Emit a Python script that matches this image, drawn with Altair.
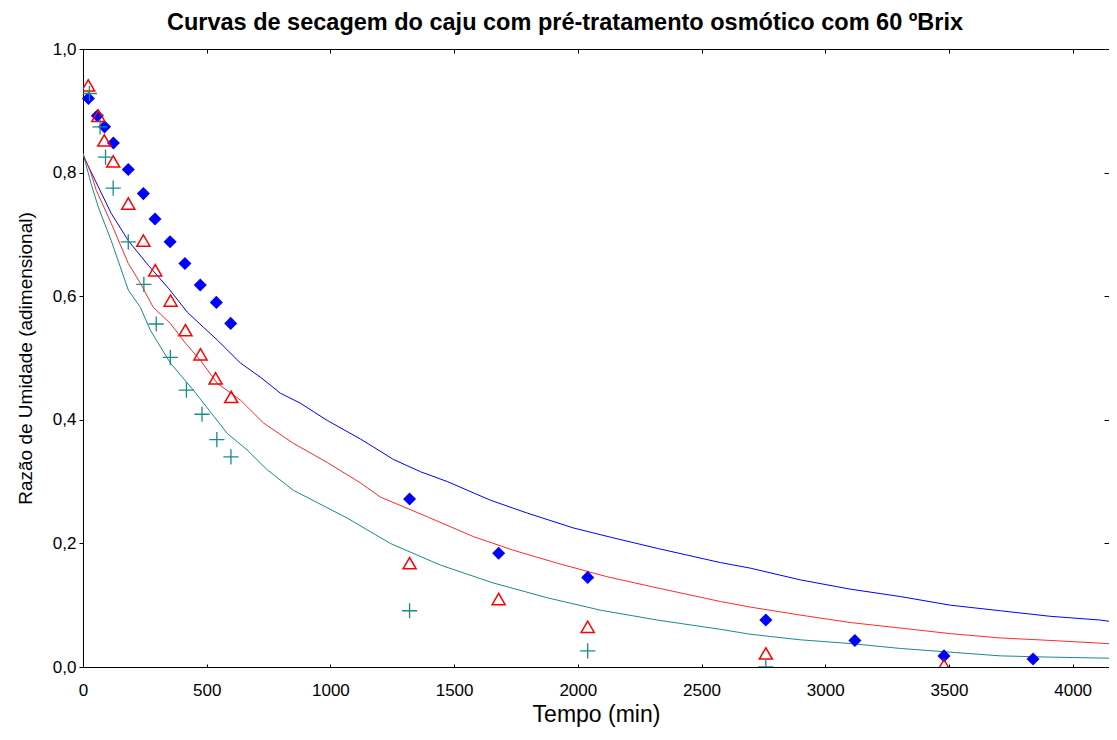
import altair as alt
import pandas as pd

# ---------------- data ----------------
# Experimental points (Tempo em min, Razão de Umidade)
DIAM_T = [22, 58, 87, 123, 183, 244, 291, 352, 412, 474, 539, 597,
          1320, 1680, 2040, 2760, 3120, 3480, 3840, 4200]
DIAM_Y = [0.920, 0.892, 0.874, 0.848, 0.805, 0.766, 0.725, 0.688, 0.653, 0.618, 0.590, 0.556,
          0.272, 0.184, 0.145, 0.076, 0.043, 0.018, 0.013, 0.009]

TRI_T = [21, 62, 86, 122, 183, 244, 292, 354, 414, 475, 536, 599,
         1320, 1680, 2040, 2760, 3480]
TRI_Y = [0.941, 0.892, 0.852, 0.818, 0.750, 0.690, 0.642, 0.593, 0.545, 0.506, 0.467, 0.437,
         0.168, 0.110, 0.065, 0.022, 0.003]

CROSS_T = [26, 69, 91, 122, 183, 246, 296, 353, 418, 481, 541, 598,
           1320, 2040, 2760]
CROSS_Y = [0.928, 0.874, 0.825, 0.775, 0.688, 0.619, 0.555, 0.501, 0.448, 0.409, 0.368, 0.340,
           0.091, 0.026, 0.000]

# Fitted curves
BLUE_T = [0, 62, 114, 183, 264, 345, 422, 486, 543, 636, 717, 798, 878, 987, 1121, 1174, 1254,
          1364, 1473, 1646, 1796, 1982, 2143, 2321, 2576, 2697, 2899, 3101, 3304, 3506, 3708,
          3910, 4112, 4181]
BLUE_Y = [0.828, 0.777, 0.734, 0.690, 0.650, 0.613, 0.574, 0.550, 0.529, 0.492, 0.469, 0.443,
          0.427, 0.399, 0.369, 0.356, 0.336, 0.316, 0.300, 0.270, 0.249, 0.225, 0.209, 0.192,
          0.169, 0.160, 0.141, 0.126, 0.114, 0.100, 0.091, 0.082, 0.076, 0.072]

RED_T = [0, 32, 54, 114, 183, 232, 284, 353, 414, 475, 543, 636, 729, 850, 987, 1121, 1202,
         1392, 1578, 1739, 1917, 2119, 2321, 2576, 2697, 2899, 3101, 3304, 3506, 3708, 3910, 4181]
RED_Y = [0.831, 0.799, 0.771, 0.718, 0.653, 0.621, 0.582, 0.556, 0.524, 0.496, 0.459, 0.432,
         0.395, 0.362, 0.331, 0.298, 0.275, 0.243, 0.211, 0.189, 0.168, 0.146, 0.128, 0.106,
         0.097, 0.084, 0.072, 0.063, 0.054, 0.047, 0.043, 0.037]

TEAL_T = [0, 32, 62, 114, 183, 232, 272, 353, 446, 583, 664, 745, 850, 1068, 1242, 1444, 1658,
          1877, 2091, 2321, 2576, 2697, 2899, 3101, 3304, 3506, 3708, 3910, 4181]
TEAL_Y = [0.831, 0.783, 0.744, 0.690, 0.610, 0.582, 0.545, 0.492, 0.448, 0.378, 0.351, 0.319,
          0.286, 0.241, 0.200, 0.165, 0.136, 0.112, 0.092, 0.076, 0.061, 0.053, 0.044, 0.038,
          0.030, 0.024, 0.018, 0.016, 0.014]

X_TICKS = [0, 500, 1000, 1500, 2000, 2500, 3000, 3500, 4000]
Y_TICKS = [0.0, 0.2, 0.4, 0.6, 0.8, 1.0]

SERIES = ["Curva 1", "Curva 2", "Curva 3"]
COLORS = ["#0000FF", "#FF2A2A", "#1A8A8A"]

TITLE = "Curvas de secagem do caju  com pré-tratamento osmótico com 60 ºBrix"
X_TITLE = "Tempo (min)"
Y_TITLE = "Razão de Umidade (adimensional)"

# ---------------- tables ----------------
curves = pd.concat([
    pd.DataFrame({"t": BLUE_T, "y": BLUE_Y, "s": SERIES[0]}),
    pd.DataFrame({"t": RED_T, "y": RED_Y, "s": SERIES[1]}),
    pd.DataFrame({"t": TEAL_T, "y": TEAL_Y, "s": SERIES[2]}),
])
diam = pd.DataFrame({"t": DIAM_T, "y": DIAM_Y})
tri = pd.DataFrame({"t": TRI_T, "y": TRI_Y})
cross = pd.DataFrame({"t": CROSS_T, "y": CROSS_Y})

FONT = "Liberation Sans"
PLOT_W = 1026
X_DOM = [0, 4147]
Y_DOM = [0, 1]

xs = alt.Scale(domain=X_DOM, nice=False, zero=False)
ys = alt.Scale(domain=Y_DOM, nice=False)

x_axis = alt.Axis(values=X_TICKS, format="d", grid=False, ticks=False, labelFlush=False,
                  domainColor="#000", labelFont=FONT, labelFontSize=17, labelColor="#000",
                  labelBaseline="alphabetic", labelPadding=28,
                  title=X_TITLE, titleFont=FONT, titleFontSize=23, titleFontWeight="normal",
                  titleColor="#000", titleBaseline="alphabetic", titleY=54)
y_axis = alt.Axis(values=Y_TICKS, grid=False, tickSize=4, tickColor="#000", labelFlush=False,
                  domainColor="#000", labelFont=FONT, labelFontSize=17, labelColor="#000",
                  labelPadding=3,
                  labelExpr="replace(format(datum.value, '.1f'), '.', ',')",
                  title=Y_TITLE, titleFont="Liberation Sans Narrow, Liberation Sans",
                  titleFontSize=19, titleFontWeight="normal", titleColor="#000",
                  titleAngle=270, titleAlign="center", titleBaseline="alphabetic",
                  titleX=-52, titleY=309)

X = alt.X("t:Q", scale=xs, axis=x_axis)
Y = alt.Y("y:Q", scale=ys, axis=y_axis)

lines = alt.Chart(curves).mark_line(strokeWidth=1, clip=True).encode(
    x=X, y=Y,
    color=alt.Color("s:N", scale=alt.Scale(domain=SERIES, range=COLORS), legend=None),
    detail="s:N",
)
pts_d = alt.Chart(diam).mark_point(shape="diamond", filled=True, size=170, color="#0000FF",
                                   opacity=1).encode(x=X, y=Y)
pts_t = alt.Chart(tri).mark_point(shape="triangle-up", filled=False, size=170, color="#FF0000",
                                  strokeWidth=1.5, opacity=1, clip=True).encode(x=X, y=Y)
pts_c = alt.Chart(cross).mark_point(shape="M-1,0H1M0,-1V1", filled=False, size=230,
                                    color="#1A8A8A", strokeWidth=1.3, opacity=1,
                                    clip=True).encode(x=X, y=Y)

main = alt.layer(lines, pts_d, pts_t, pts_c)


def xsc():
    return alt.Scale(domain=X_DOM, nice=False, zero=False)


def ysc():
    return alt.Scale(domain=Y_DOM, nice=False)


# inward tick marks on bottom / right frame
tick_b = alt.Chart(curves).mark_point(opacity=0).encode(
    x=alt.X("t:Q", scale=xsc(),
            axis=alt.Axis(orient="bottom", values=X_TICKS, labels=False, domain=False,
                          grid=False, tickSize=3, offset=-3, tickColor="#000", title=None)),
    y=alt.Y("y:Q", scale=ysc(),
            axis=alt.Axis(orient="right", values=Y_TICKS, labels=False, domain=False,
                          grid=False, tickSize=5, offset=-5, tickColor="#000", title=None)),
)
# top frame line
frame_t = alt.Chart(curves).mark_point(opacity=0).encode(
    x=alt.X("t:Q", scale=xsc(),
            axis=alt.Axis(orient="top", labels=False, ticks=False, domain=True,
                          domainColor="#000", grid=False, title=None)),
    y=alt.Y("y:Q", scale=ysc(), axis=None),
)
# inward ticks on the top frame
tick_t = alt.Chart(curves).mark_point(opacity=0).encode(
    x=alt.X("t:Q", scale=xsc(),
            axis=alt.Axis(orient="top", values=X_TICKS, labels=False, domain=False,
                          grid=False, tickSize=4, offset=-4, tickColor="#000", title=None)),
    y=alt.Y("y:Q", scale=ysc(), axis=None),
)

chart = alt.layer(main, tick_b, frame_t, tick_t).resolve_scale(
    x="independent", y="independent"
).properties(
    width=PLOT_W, height=618,
    autosize=alt.AutoSizeParams(type="none"),
    padding={"left": 75, "top": 41, "right": 0, "bottom": 60},
    title=alt.TitleParams(TITLE, font=FONT, fontSize=23.5, fontWeight="bold", color="#000",
                          anchor="middle", frame="group", dx=-31, offset=6),
).configure_view(strokeWidth=0).configure(background="white")

chart.save("out.html", embed_options={"renderer": "svg", "actions": False})
